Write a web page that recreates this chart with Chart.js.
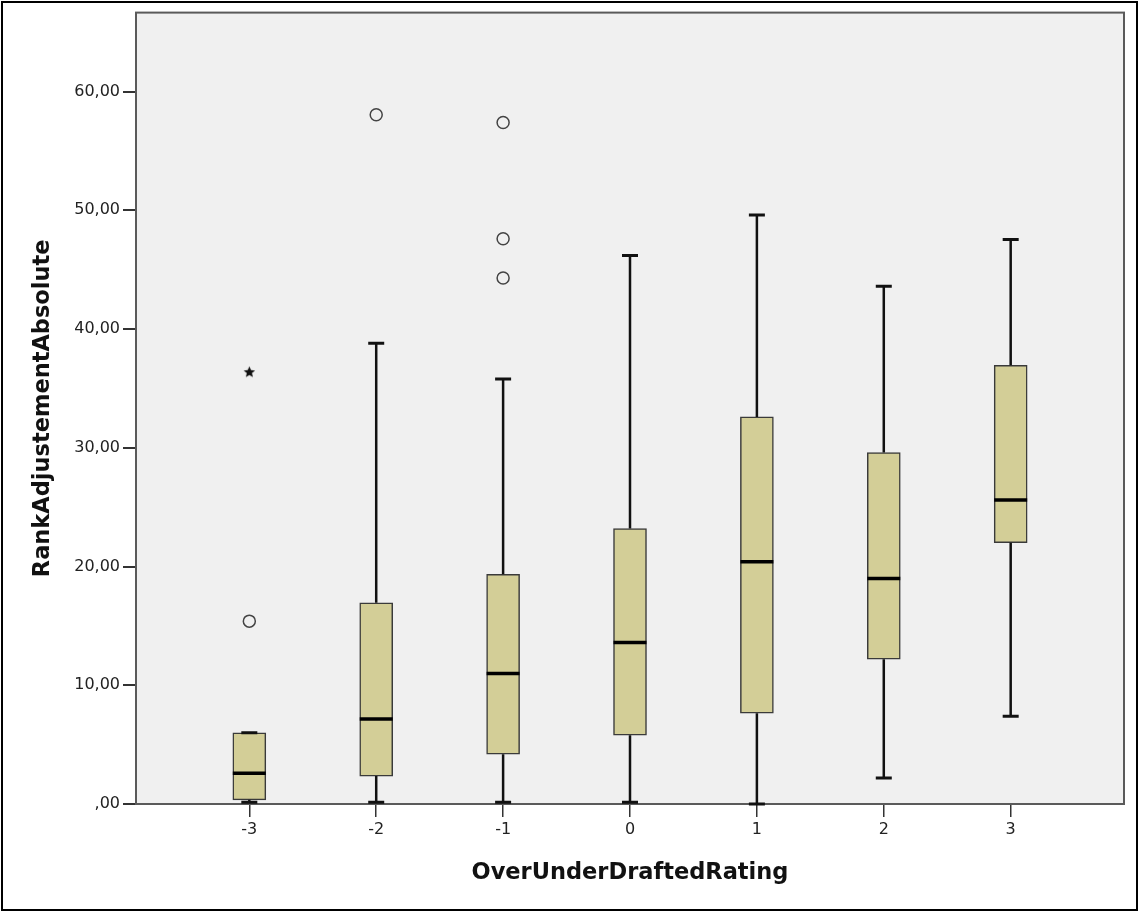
<!DOCTYPE html>
<html>
<head>
<meta charset="utf-8">
<script src="https://cdn.jsdelivr.net/npm/chart.js@4/dist/chart.umd.min.js"></script>
<style>
  html, body { margin: 0; padding: 0; background: #fff; }
  #wrap { width: 1139px; height: 913px; }
</style>
</head>
<body>
<div id="wrap"><canvas id="boxchart"></canvas></div>
<script>
// categories on the x axis
var categories = [-3, -2, -1, 0, 1, 2, 3];
var xTickLabels = ['-3', '-2', '-1', '0', '1', '2', '3'];

// box plot summary per category
var whiskerLow  = [0.15, 0.15, 0.15, 0.15, 0, 2.2, 7.4];
var q1          = [0.35, 2.35, 4.2, 5.8, 7.65, 12.2, 22.0];
var median      = [2.6, 7.15, 11.0, 13.6, 20.4, 19.0, 25.6];
var q3          = [6.0, 16.95, 19.35, 23.2, 32.6, 29.6, 36.95];
var whiskerHigh = [6.0, 38.8, 35.8, 46.2, 49.6, 43.6, 47.55];

// outliers (circles) and extremes (stars)
var outlierX = [-3, -2, -1, -1, -1];
var outlierY = [15.4, 58.05, 57.4, 47.6, 44.3];
var extremeX = [-3];
var extremeY = [36.4];

var yTickValues = [0, 10, 20, 30, 40, 50, 60];
var yTickLabels = [',00', '10,00', '20,00', '30,00', '40,00', '50,00', '60,00'];

var boxes = categories.map(function (c, i) { return { x: c, y: [q1[i], q3[i]] }; });
var outliers = outlierX.map(function (c, i) { return { x: c, y: outlierY[i] }; });
var extremes = extremeX.map(function (c, i) { return { x: c, y: extremeY[i] }; });

// small filled five point star for the extreme values
function makeStar(size) {
    var c = document.createElement('canvas');
    c.width = size; c.height = size;
    var g = c.getContext('2d');
    var cx = size / 2, cy = size / 2 + 0.5, ro = size / 2 - 0.5, ri = ro * 0.45;
    g.beginPath();
    for (var k = 0; k < 10; k++) {
        var r = k % 2 === 0 ? ro : ri;
        var a = -Math.PI / 2 + k * Math.PI / 5;
        g.lineTo(cx + r * Math.cos(a), cy + r * Math.sin(a));
    }
    g.closePath();
    g.fillStyle = '#111';
    g.fill();
    return c;
}

var tickFont = { family: 'DejaVu Sans', size: 16 };
var titleFont = { family: 'DejaVu Sans', size: 22.5, weight: 'bold' };

var boxPlugin = {
    id: 'boxPlugin',
    beforeDraw: function (chart) {
        var ctx = chart.ctx, a = chart.chartArea;
        ctx.save();
        ctx.fillStyle = '#ffffff';
        ctx.fillRect(0, 0, chart.width, chart.height);
        ctx.strokeStyle = '#000';
        ctx.lineWidth = 2;
        ctx.strokeRect(2, 2, chart.width - 4, chart.height - 5);
        ctx.fillStyle = '#f0f0f0';
        ctx.fillRect(a.left, a.top, a.right - a.left, a.bottom - a.top);
        ctx.restore();
    },
    beforeDatasetsDraw: function (chart) {
        var ctx = chart.ctx, a = chart.chartArea;
        ctx.save();
        ctx.strokeStyle = '#5a5a5a';
        ctx.lineWidth = 2;
        ctx.strokeRect(a.left, a.top, a.right - a.left, a.bottom - a.top);
        ctx.restore();
    },
    afterDatasetsDraw: function (chart) {
        var ctx = chart.ctx;
        var xs = chart.scales.x, ys = chart.scales.y;
        var boxW = 33, capW = 16;
        ctx.save();
        ctx.strokeStyle = '#111';
        for (var i = 0; i < categories.length; i++) {
            var px = xs.getPixelForValue(categories[i]);
            var yLo = ys.getPixelForValue(whiskerLow[i]);
            var yQ1 = ys.getPixelForValue(q1[i]);
            var yQ3 = ys.getPixelForValue(q3[i]);
            var yHi = ys.getPixelForValue(whiskerHigh[i]);
            var yMed = ys.getPixelForValue(median[i]);
            // whiskers
            ctx.lineWidth = 2.5;
            ctx.beginPath();
            ctx.moveTo(px, yQ3); ctx.lineTo(px, yHi);
            ctx.moveTo(px, yQ1); ctx.lineTo(px, yLo);
            ctx.stroke();
            // caps
            ctx.lineWidth = 3;
            ctx.beginPath();
            ctx.moveTo(px - capW / 2, yHi); ctx.lineTo(px + capW / 2, yHi);
            ctx.moveTo(px - capW / 2, yLo); ctx.lineTo(px + capW / 2, yLo);
            ctx.stroke();
            // median
            ctx.lineWidth = 3.5;
            ctx.strokeStyle = '#000';
            ctx.beginPath();
            ctx.moveTo(px - boxW / 2, yMed); ctx.lineTo(px + boxW / 2, yMed);
            ctx.stroke();
            ctx.strokeStyle = '#111';
        }
        ctx.restore();
    }
};

var ctx = document.getElementById('boxchart').getContext('2d');
var chart = new Chart(ctx, {
    type: 'bar',
    data: {
        datasets: [{
            type: 'bar',
            label: 'box',
            data: boxes,
            backgroundColor: '#d3ce97',
            borderColor: '#3a3a3a',
            borderWidth: 1.5,
            borderSkipped: false,
            barThickness: 33
        }, {
            type: 'scatter',
            label: 'outliers',
            data: outliers,
            pointStyle: 'circle',
            pointRadius: 6,
            borderWidth: 1.5,
            borderColor: '#444',
            backgroundColor: 'rgba(0,0,0,0)'
        }, {
            type: 'scatter',
            label: 'extremes',
            data: extremes,
            pointStyle: makeStar(13),
            pointRadius: 6
        }]
    },
    options: {
        responsive: true,
        maintainAspectRatio: false,
        animation: false,
        layout: { padding: { top: 12, right: 15, left: 0, bottom: 0 } },
        plugins: { legend: { display: false }, tooltip: { enabled: false } },
        scales: {
            x: {
                type: 'linear',
                offset: false,
                min: -3.893,
                max: 3.893,
                afterBuildTicks: function (s) { s.ticks = categories.map(function (v) { return { value: v }; }); },
                afterFit: function (s) { s.height = 109; },
                ticks: {
                    font: tickFont,
                    color: '#222',
                    padding: 3,
                    maxRotation: 0,
                    autoSkip: false,
                    callback: function (v) { return xTickLabels[categories.indexOf(v)]; }
                },
                grid: { offset: false, drawOnChartArea: false, drawTicks: true, tickLength: 13, color: '#333', lineWidth: 1.5 },
                border: { display: false },
                title: {
                    display: true,
                    text: 'OverUnderDraftedRating',
                    font: titleFont,
                    color: '#111',
                    padding: { top: 0, bottom: 26.5 }
                }
            },
            y: {
                min: 0,
                max: 66.65,
                afterBuildTicks: function (s) { s.ticks = yTickValues.map(function (v) { return { value: v }; }); },
                afterFit: function (s) { s.width = 136; },
                ticks: {
                    font: tickFont,
                    color: '#222',
                    padding: 3,
                    callback: function (v) { return yTickLabels[yTickValues.indexOf(v)]; }
                },
                grid: { drawOnChartArea: false, drawTicks: true, tickLength: 13, color: '#333', lineWidth: 2 },
                border: { display: false },
                title: {
                    display: true,
                    text: 'RankAdjustementAbsolute',
                    font: titleFont,
                    color: '#111',
                    padding: { top: 29.5, bottom: 0 }
                }
            }
        }
    },
    plugins: [boxPlugin]
});
</script>
</body>
</html>
